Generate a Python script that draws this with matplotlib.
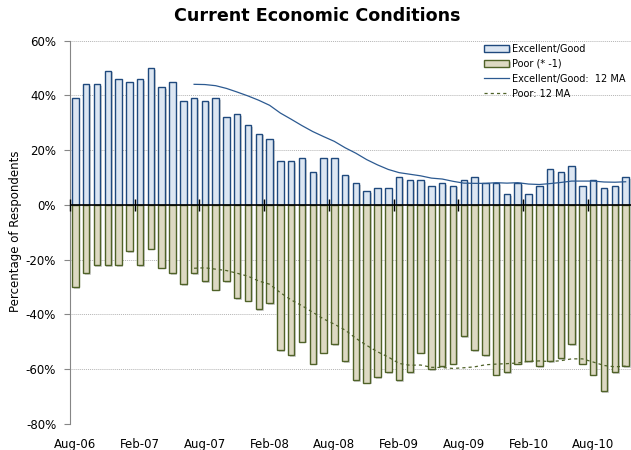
import numpy as np
import pandas as pd
import matplotlib
matplotlib.use('Agg')
import matplotlib.pyplot as plt
import matplotlib.patheffects as pe

# monthly survey results, Aug-06 .. Nov-10
excellent = [39, 44, 44, 49, 46, 45, 46, 50, 43, 45, 38, 39, 38, 39, 32, 33, 29, 26,
             24, 16, 16, 17, 12, 17, 17, 11, 8, 5, 6, 6, 10, 9, 9, 7, 8, 7, 9, 10,
             8, 8, 4, 8, 4, 7, 13, 12, 14, 7, 9, 6, 7, 10]
poor = [30, 25, 22, 22, 22, 17, 22, 16, 23, 25, 29, 25, 28, 31, 28, 34, 35, 38,
        36, 53, 55, 50, 58, 54, 51, 57, 64, 65, 63, 61, 64, 61, 54, 60, 59, 58,
        48, 53, 55, 62, 61, 58, 57, 59, 57, 56, 51, 58, 62, 68, 61, 59]
tick_labels = ['Aug-06', 'Feb-07', 'Aug-07', 'Feb-08', 'Aug-08', 'Feb-09',
               'Aug-09', 'Feb-10', 'Aug-10']
y_ticks = [60, 40, 20, 0, -20, -40, -60, -80]

x = np.arange(len(excellent))
exc = pd.Series(excellent, dtype=float)
pr = -pd.Series(poor, dtype=float)
exc_ma = exc.rolling(12).mean()
poor_ma = pr.rolling(12).mean()

plt.rcParams['font.family'] = ['DejaVu Sans']
fig = plt.figure(figsize=(6.31, 4.5), dpi=100)
ax = fig.add_axes([0.111, 0.058, 0.889, 0.852])

shadow = [pe.SimplePatchShadow(offset=(1.2, -1.2), shadow_rgbFace='#808080', alpha=0.35),
          pe.Normal()]
b1 = ax.bar(x, exc, width=0.6, color='#dce6f2', edgecolor='#1f497d', linewidth=1.0,
            label='Excellent/Good', path_effects=shadow, zorder=2)
b2 = ax.bar(x, pr, width=0.6, color='#ddd9c3', edgecolor='#4f6228', linewidth=1.0,
            label='Poor (* -1)', path_effects=shadow, zorder=2)
l1, = ax.plot(x, exc_ma, color='#2c5a91', lw=0.9, label='Excellent/Good:  12 MA', zorder=4)
l2, = ax.plot(x, poor_ma, color='#4f6228', lw=0.9, ls=(0, (2.5, 2.5)),
              label='Poor: 12 MA', zorder=4)

# zero line with category tick marks every 6 months
ax.axhline(0, color='black', lw=1.2, zorder=3)
bounds = np.arange(-0.5, len(x), 6)
ax.plot(bounds, np.zeros_like(bounds), ls='none', marker='|', ms=8, mew=1.0,
        color='black', zorder=3, clip_on=False)

ax.set_xlim(-0.5, len(x) - 0.5)
ax.set_ylim(-80, 60)
ax.set_yticks(y_ticks)
ax.set_yticklabels(['{}%'.format(v) for v in y_ticks])
ax.set_xticks(x[::6])
ax.set_xticklabels(tick_labels)
ax.tick_params(axis='y', length=4, color='#868686', pad=6, labelsize=8.5)
ax.tick_params(axis='x', length=0, pad=10, labelsize=8.5)

ax.grid(axis='y', color='#b4b4b4', linestyle=(0, (1, 1)), lw=0.7)
ax.set_axisbelow(True)
for s in ['top', 'right', 'bottom']:
    ax.spines[s].set_visible(False)
ax.spines['left'].set_color('#868686')

fig.suptitle('Current Economic Conditions', x=0.503, y=0.985, fontsize=12.6,
             fontweight='bold', va='top')
fig.text(0.024, 0.486, 'Percentage of Respondents', rotation=90, ha='center',
         va='center', fontsize=8.5)

ax.legend(handles=[b1, b2, l1, l2], loc='upper left',
          bbox_to_anchor=(484 / 631, 1 - 44 / 450), bbox_transform=fig.transFigure,
          frameon=False, fontsize=7, handlelength=2.6, handleheight=0.6,
          labelspacing=0.5, handletextpad=0.25, borderaxespad=0, borderpad=0)

fig.savefig('out.png', dpi=100)
